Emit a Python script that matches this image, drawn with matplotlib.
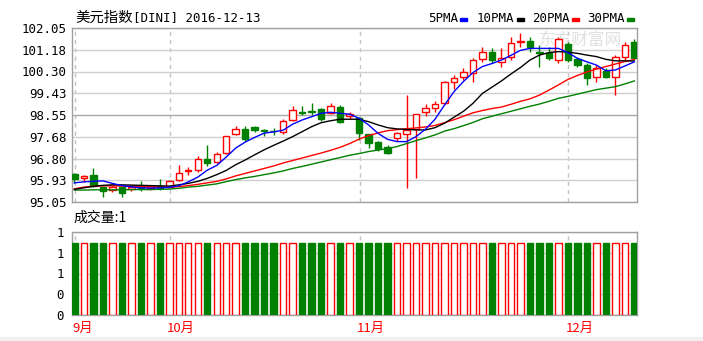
from __future__ import annotations

import matplotlib

matplotlib.use("Agg")
import matplotlib.pyplot as plt
import matplotlib.transforms as mtransforms
import numpy as np
from matplotlib.patches import Rectangle

TITLE_CN = "美元指数"
TITLE_CODE = "[DINI] 2016-12-13"
VOLUME_TITLE = "成交量:1"
WATERMARK = "东方财富网"

# daily candles
opens = [96.18, 96.00, 96.12, 95.66, 95.53, 95.64, 95.56, 95.69, 95.60, 95.69,
         95.64, 95.93, 96.28, 96.34, 96.78, 96.65, 97.01, 97.77, 97.99, 98.08,
         97.93, 97.92, 97.85, 98.35, 98.68, 98.70, 98.80, 98.64, 98.88, 98.50,
         98.42, 97.78, 97.48, 97.27, 97.61, 97.78, 97.97, 98.66, 98.82, 99.02,
         99.87, 100.09, 100.23, 100.79, 101.10, 100.68, 100.88, 101.47, 101.54, 101.08,
         101.03, 100.77, 101.41, 100.79, 100.56, 100.07, 100.33, 100.09, 100.90, 101.50]
closes = [95.99, 96.09, 95.69, 95.50, 95.66, 95.42, 95.64, 95.60, 95.69, 95.62,
          95.90, 96.23, 96.32, 96.78, 96.60, 96.98, 97.70, 98.00, 97.57, 97.95,
          97.90, 97.89, 98.30, 98.75, 98.65, 98.66, 98.40, 98.91, 98.28, 98.58,
          97.81, 97.41, 97.18, 97.03, 97.81, 97.95, 98.58, 98.82, 98.99, 99.89,
          100.03, 100.27, 100.76, 101.10, 100.77, 100.85, 101.43, 101.53, 101.30, 101.05,
          100.83, 101.59, 100.76, 100.56, 100.03, 100.43, 100.09, 100.87, 101.37, 100.83]
highs = [96.20, 96.12, 96.40, 95.70, 95.70, 95.66, 95.72, 95.90, 95.75, 95.98,
         95.95, 96.54, 96.45, 96.90, 97.34, 97.05, 97.72, 98.10, 98.12, 98.12,
         98.00, 98.02, 98.40, 98.92, 98.92, 99.02, 98.85, 99.02, 98.95, 98.66,
         98.45, 97.80, 97.50, 97.33, 97.88, 99.35, 98.60, 99.00, 99.10, 99.92,
         100.16, 100.45, 100.83, 101.30, 101.23, 101.23, 101.68, 101.84, 101.70, 101.37,
         101.30, 101.68, 101.50, 100.90, 100.65, 100.56, 100.43, 100.96, 101.50, 101.59]
lows = [95.83, 95.85, 95.66, 95.24, 95.45, 95.26, 95.50, 95.50, 95.55, 95.52,
        95.60, 95.90, 96.14, 96.25, 96.50, 96.60, 97.00, 97.75, 97.52, 97.88,
        97.70, 97.76, 97.80, 98.30, 98.55, 98.55, 98.30, 98.60, 98.22, 98.40,
        97.55, 97.21, 97.12, 96.98, 97.50, 95.60, 96.00, 98.52, 98.68, 99.00,
        99.60, 99.95, 99.89, 100.69, 100.63, 100.49, 100.76, 101.30, 101.10, 100.49,
        100.76, 100.63, 100.69, 100.49, 99.76, 99.89, 100.03, 99.35, 100.76, 100.80]

# moving averages as drawn on the chart
ma5 = [95.82, 95.86, 95.88, 95.90, 95.80, 95.71, 95.66, 95.62, 95.61, 95.62,
       95.64, 95.70, 95.86, 96.05, 96.33, 96.52, 96.86, 97.22, 97.46, 97.65,
       97.82, 97.87, 97.94, 98.18, 98.35, 98.48, 98.62, 98.66, 98.62, 98.58,
       98.42, 98.15, 97.81, 97.57, 97.48, 97.48, 97.68, 97.98, 98.38, 98.95,
       99.49, 99.90, 100.26, 100.50, 100.62, 100.76, 100.95, 101.15, 101.23, 101.23,
       101.23, 101.23, 101.06, 100.83, 100.69, 100.56, 100.33, 100.36, 100.52, 100.69]
ma10 = [95.56, 95.62, 95.68, 95.72, 95.74, 95.74, 95.73, 95.72, 95.71, 95.70,
        95.69, 95.74, 95.80, 95.88, 96.00, 96.15, 96.32, 96.55, 96.74, 96.95,
        97.15, 97.33, 97.50, 97.68, 97.88, 98.08, 98.24, 98.32, 98.38, 98.38,
        98.38, 98.28, 98.15, 98.04, 97.99, 97.97, 97.95, 97.95, 98.04, 98.22,
        98.46, 98.70, 99.02, 99.42, 99.67, 99.92, 100.20, 100.46, 100.76, 100.96,
        101.06, 101.10, 101.08, 101.03, 100.96, 100.90, 100.79, 100.73, 100.73, 100.72]
ma20 = [95.58, 95.65, 95.68, 95.70, 95.70, 95.69, 95.68, 95.67, 95.66, 95.65,
        95.65, 95.67, 95.71, 95.76, 95.82, 95.88, 95.98, 96.10, 96.20, 96.30,
        96.40, 96.50, 96.62, 96.72, 96.82, 96.92, 97.02, 97.13, 97.25, 97.40,
        97.58, 97.72, 97.83, 97.92, 97.96, 98.00, 98.03, 98.07, 98.13, 98.24,
        98.36, 98.50, 98.64, 98.73, 98.81, 98.87, 98.98, 99.10, 99.20, 99.35,
        99.55, 99.76, 99.98, 100.14, 100.28, 100.40, 100.50, 100.60, 100.70, 100.78]
ma30 = [95.53, 95.53, 95.54, 95.54, 95.54, 95.54, 95.55, 95.55, 95.55, 95.56,
        95.57, 95.60, 95.65, 95.68, 95.73, 95.78, 95.87, 95.95, 96.02, 96.08,
        96.15, 96.22, 96.30, 96.40, 96.48, 96.57, 96.66, 96.75, 96.84, 96.93,
        97.00, 97.08, 97.14, 97.20, 97.28, 97.40, 97.52, 97.63, 97.75, 97.90,
        98.00, 98.12, 98.25, 98.40, 98.50, 98.60, 98.70, 98.80, 98.90, 98.99,
        99.10, 99.22, 99.30, 99.39, 99.48, 99.57, 99.63, 99.69, 99.80, 99.92]

volume = [1, 1, 1, 1, 1, 1, 1, 1, 1, 1, 1, 1, 1, 1, 1, 1, 1, 1, 1, 1,
          1, 1, 1, 1, 1, 1, 1, 1, 1, 1, 1, 1, 1, 1, 1, 1, 1, 1, 1, 1,
          1, 1, 1, 1, 1, 1, 1, 1, 1, 1, 1, 1, 1, 1, 1, 1, 1, 1, 1, 1]

month_labels = ["9月", "10月", "11月", "12月"]
month_starts = [0, 10, 30, 52]

price_ticks = ["95.05", "95.93", "96.80", "97.68", "98.55", "99.43", "100.30", "101.18", "102.05"]
volume_ticks = ["0", "0", "1", "1", "1"]

ma_names = ["5PMA", "10PMA", "20PMA", "30PMA"]
ma_colors = ["#0000ff", "#000000", "#ff0000", "#008000"]

UP = "#ff0000"
DOWN = "#008000"
W, H = 703, 341
MONO = "DejaVu Sans Mono"
CJK = "Noto Sans CJK SC"


def fx(px: float) -> float:
    return px / W


def fy(py: float) -> float:
    return 1 - py / H


def style_axes(ax) -> None:
    for s in ax.spines.values():
        s.set_color("#a0a0a0")
        s.set_linewidth(1.0)
    ax.tick_params(axis="both", length=0)
    ax.set_xticks([])
    for m in month_starts:
        ax.axvline(m + 0.06, color="#c4c4c4", linestyle=(0, (3, 3)), linewidth=1.0, zorder=0.5)


def main() -> None:
    x = np.arange(len(closes))
    o = np.array(opens)
    c = np.array(closes)
    up = c >= o
    colors = np.where(up, UP, DOWN)
    body_w = 0.68

    fig = plt.figure(figsize=(W / 100, H / 100), dpi=100)
    fig.patches.append(Rectangle((0, 0), 1, 4.5 / H, transform=fig.transFigure, color="#f0f0f0"))

    ax = fig.add_axes([fx(72), fy(202), fx(564.7), 174 / H])
    style_axes(ax)
    lo_p, hi_p = float(price_ticks[0]), float(price_ticks[-1])
    ax.set_ylim(lo_p, hi_p)
    ax.set_xlim(-0.25, len(x) - 0.75)
    yt = np.linspace(lo_p, hi_p, len(price_ticks))
    ax.set_yticks(yt)
    ax.set_yticklabels(price_ticks, family=MONO, fontsize=9)
    ax.tick_params(axis="y", pad=4)
    ax.grid(axis="y", color="#cfcfcf", linewidth=1.0, zorder=0.4)
    ax.get_ygridlines()[len(yt) // 2].set_color("#a8a8a8")

    ax.text(0.9, 0.93, WATERMARK, transform=ax.transAxes, family=CJK, fontsize=12,
            color="#e0e0e0", ha="center", va="center", zorder=0.6)

    ax.vlines(x, lows, highs, colors=colors, linewidth=1.0, zorder=2)
    bottoms = np.minimum(o, c)
    heights = np.abs(c - o)
    ax.bar(x, heights, width=body_w, bottom=bottoms,
           color=np.where(up, "#ffffff", DOWN), edgecolor=colors, linewidth=1.0, zorder=3)

    for series, col in zip([ma30, ma20, ma10, ma5], ma_colors[::-1]):
        ax.plot(x, series, color=col, linewidth=1.0, zorder=4)

    # volume panel
    axv = fig.add_axes([fx(72), fy(315), fx(564.7), 83 / H])
    style_axes(axv)
    axv.set_xlim(ax.get_xlim())
    axv.set_ylim(0, 1.15)
    vt = np.linspace(0, 1.15, len(volume_ticks))
    axv.set_yticks(vt)
    axv.set_yticklabels(volume_ticks, family=MONO, fontsize=9)
    axv.tick_params(axis="y", pad=6)
    axv.grid(axis="y", color="#d8d8d8", linewidth=1.0, zorder=0.4)
    axv.bar(x, volume, width=body_w, color=np.where(up, "#ffffff", DOWN),
            edgecolor=colors, linewidth=1.0, zorder=3)

    trans = mtransforms.blended_transform_factory(axv.transData, axv.transAxes)
    for m, lab in zip(month_starts, month_labels):
        axv.text(m - 0.25, -0.16, lab, transform=trans, family=CJK, fontsize=9.5,
                 color="#ff0000", ha="left", va="center")

    # titles
    fig.text(fx(75), fy(18), TITLE_CN, family=CJK, fontsize=10.4, va="center", ha="left")
    fig.text(fx(133), fy(18), TITLE_CODE, family=MONO, fontsize=9, va="center", ha="left")
    fig.text(fx(73), fy(218), VOLUME_TITLE, family=CJK, fontsize=10, va="center", ha="left")

    # legend row
    label_x = [428, 477, 532, 587]
    for lx, name, col in zip(label_x, ma_names, ma_colors):
        t = fig.text(fx(lx), fy(18.5), name, family=MONO, fontsize=9, va="center", ha="left")
        fig.canvas.draw()
        bb = t.get_window_extent()
        fig.patches.append(Rectangle((fx(bb.x1 + 2), fy(20.5)), fx(7), 3 / H,
                                     transform=fig.transFigure, color=col))

    fig.savefig("out.png", dpi=100)
    plt.close(fig)


if __name__ == "__main__":
    main()
